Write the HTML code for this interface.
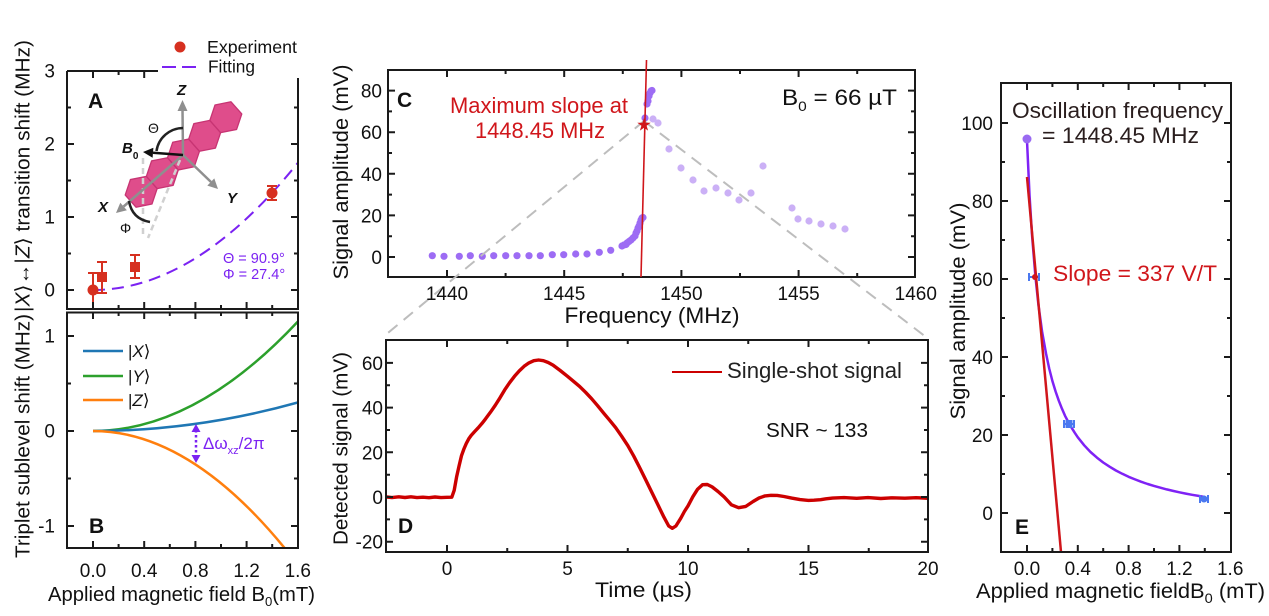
<!DOCTYPE html>
<html><head><meta charset="utf-8"><style>
html,body{margin:0;padding:0;background:#fff;}
svg{display:block;font-family:"Liberation Sans",Arial,"DejaVu Sans",sans-serif;}
</style></head><body>
<svg width="1269" height="616" viewBox="0 0 1269 616" xmlns="http://www.w3.org/2000/svg">
<defs>
<clipPath id="ca"><rect x="67" y="71" width="231" height="238"/></clipPath>
<clipPath id="cb"><rect x="67" y="312" width="231" height="236"/></clipPath>
<clipPath id="cd"><rect x="386" y="340" width="542" height="212"/></clipPath>
<clipPath id="ce"><rect x="1001" y="83" width="230" height="469"/></clipPath>
</defs>
<rect width="1269" height="616" fill="#fff"/>

<!-- ===== LEFT Y LABELS ===== -->
<text transform="translate(29.5,436) rotate(-90)" text-anchor="middle" font-size="20" fill="#111" textLength="244" lengthAdjust="spacingAndGlyphs">Triplet sublevel shift (MHz)</text>
<text transform="translate(29.5,176) rotate(-90)" text-anchor="middle" font-size="20" fill="#111" textLength="272" lengthAdjust="spacingAndGlyphs">|<tspan font-style="italic">X</tspan>⟩↔|<tspan font-style="italic">Z</tspan>⟩  transition shift (MHz)</text>

<!-- ===== PANEL A ===== -->
<g clip-path="url(#ca)">
<path d="M93 290 Q195.4 290 297.8 162.9" fill="none" stroke="#7b22f2" stroke-width="2" stroke-dasharray="12 7"/>
<g stroke="#d63020" stroke-width="2" fill="#d63020">
<path d="M93 273V312M88 273h10"/>
<path d="M102 262V293M97 262h10M97 293h10"/>
<path d="M135 255V278M130 255h10M130 278h10"/>
<path d="M272 186V200M267 186h10M267 200h10"/>
</g>
<circle cx="93" cy="290" r="5.5" fill="#d63020"/>
<rect x="97" y="272" width="10" height="10" fill="#d63020"/>
<rect x="130" y="262" width="10" height="10" fill="#d63020"/>
<circle cx="272" cy="193" r="5.5" fill="#d63020"/>
</g>
<text x="223" y="263" font-size="14.5" fill="#7b22f2">Θ = 90.9°</text>
<text x="223" y="279" font-size="14.5" fill="#7b22f2">Φ = 27.4°</text>

<!-- molecule -->
<g transform="translate(183.5,154.5) rotate(-41.4)" fill="#df4d8b" stroke="#c73473" stroke-width="1.3" stroke-linejoin="round">
<polygon points="-56.4,-16.3 -42.3,-8.15 -42.3,8.15 -56.4,16.3 -70.5,8.15 -70.5,-8.15"/>
<polygon points="-28.2,-16.3 -14.1,-8.15 -14.1,8.15 -28.2,16.3 -42.3,8.15 -42.3,-8.15"/>
<polygon points="0,-16.3 14.1,-8.15 14.1,8.15 0,16.3 -14.1,8.15 -14.1,-8.15"/>
<polygon points="28.2,-16.3 42.3,-8.15 42.3,8.15 28.2,16.3 14.1,8.15 14.1,-8.15"/>
<polygon points="56.4,-16.3 70.5,-8.15 70.5,8.15 56.4,16.3 42.3,8.15 42.3,-8.15"/>
</g>
<g stroke="#d0d0d0" stroke-width="2.5" stroke-dasharray="6 4" fill="none">
<path d="M143 158V238"/>
<path d="M180 160L148 238"/>
</g>
<g stroke="#8f8f8f" stroke-width="2.5" fill="#8f8f8f">
<path d="M183 155L182.5 109"/>
<polygon points="182.5,100 177.5,111 187.5,111" stroke="none"/>
<path d="M183 155L211 182"/>
<polygon points="218,189 207.3,185.6 214.3,178.4" stroke="none"/>
<path d="M183 155L123.6 206.5"/>
<polygon points="116,213 120.3,202.7 126.9,210.3" stroke="none"/>
</g>
<path d="M183 155L153 152.75" stroke="#111" stroke-width="2.5"/>
<polygon points="143,152 153.4,147.8 152.6,157.7" fill="#111"/>
<path d="M183 128A27 27 0 0 0 156.5 151" fill="none" stroke="#222" stroke-width="2.5"/>
<path d="M129 201Q132 219 150 222" fill="none" stroke="#222" stroke-width="2.5"/>
<text x="177" y="95" font-size="15" font-weight="bold" font-style="italic" fill="#111">Z</text>
<text x="227" y="203" font-size="15" font-weight="bold" font-style="italic" fill="#111">Y</text>
<text x="98" y="212" font-size="15" font-weight="bold" font-style="italic" fill="#111">X</text>
<text x="122" y="153" font-size="15" font-weight="bold" font-style="italic" fill="#111">B<tspan font-size="10" dy="6" font-style="normal">0</tspan></text>
<text x="148" y="133" font-size="14" fill="#111">Θ</text>
<text x="120" y="233" font-size="14" fill="#111">Φ</text>

<text x="88" y="108" font-size="21" font-weight="bold" fill="#111">A</text>

<!-- legend white box -->
<rect x="158" y="20" width="150" height="58" fill="#fff"/>
<circle cx="180" cy="47" r="5.5" fill="#d63020"/>
<text x="207" y="53" font-size="17.5" fill="#111" textLength="90" lengthAdjust="spacingAndGlyphs">Experiment</text>
<path d="M162 67H197" stroke="#7b22f2" stroke-width="2" stroke-dasharray="14 6"/>
<text x="208" y="72.5" font-size="17.5" fill="#111" textLength="47" lengthAdjust="spacingAndGlyphs">Fitting</text>

<!-- A frame -->
<path d="M67 71H158M298 78V309H67V71" fill="none" stroke="#1a1a1a" stroke-width="2"/>
<path d="M93 309v-7M144.2 309v-7M195.4 309v-7M246.6 309v-7M118.6 309v-4M169.8 309v-4M221 309v-4M272.2 309v-4
M93 71v7M144.2 71v7M118.6 71v4
M67 290h7M67 217h7M67 144h7M67 253.5h4M67 180.5h4M67 107.5h4
M298 290h-7M298 217h-7M298 144h-7M298 253.5h-4M298 180.5h-4M298 107.5h-4" stroke="#1a1a1a" stroke-width="2"/>
<g font-size="19" fill="#111" text-anchor="end">
<text x="55" y="77.5">3</text><text x="55" y="150.5">2</text><text x="55" y="223.5">1</text><text x="55" y="296.5">0</text>
</g>

<!-- ===== PANEL B ===== -->
<g clip-path="url(#cb)" fill="none" stroke-width="2.5">
<path d="M93 431Q195.4 431 297.8 321.6" stroke="#2ca02c"/>
<path d="M93 431Q195.4 431 297.8 402.5" stroke="#1f77b4"/>
<path d="M93 431Q188.7 431 284.4 547.8" stroke="#ff7f0e"/>
</g>
<path d="M196 430V457" stroke="#7b22f2" stroke-width="2.5" stroke-dasharray="2.5 2.5"/>
<polygon points="196,424 191.5,432 200.5,432" fill="#7b22f2"/>
<polygon points="196,463 191.5,455 200.5,455" fill="#7b22f2"/>
<text x="203" y="449" font-size="17" fill="#7b22f2">Δω<tspan font-size="11" dy="5">xz</tspan><tspan dy="-5">/2π</tspan></text>
<path d="M83 351H123" stroke="#1f77b4" stroke-width="2.5"/>
<path d="M83 376H123" stroke="#2ca02c" stroke-width="2.5"/>
<path d="M83 400H123" stroke="#ff7f0e" stroke-width="2.5"/>
<g font-size="17" fill="#111">
<text x="128" y="357">|<tspan font-style="italic">X</tspan>⟩</text>
<text x="128" y="382">|<tspan font-style="italic">Y</tspan>⟩</text>
<text x="128" y="406">|<tspan font-style="italic">Z</tspan>⟩</text>
</g>
<text x="89" y="533" font-size="21" font-weight="bold" fill="#111">B</text>
<rect x="67" y="312.5" width="231" height="235.5" fill="none" stroke="#1a1a1a" stroke-width="2"/>
<path d="M93 548v-7M144.2 548v-7M195.4 548v-7M246.6 548v-7M118.6 548v-4M169.8 548v-4M221 548v-4M272.2 548v-4
M93 312v7M144.2 312v7M195.4 312v7M246.6 312v7M118.6 312v4M169.8 312v4M221 312v4M272.2 312v4
M67 336h7M67 431h7M67 526h7M67 383.5h4M67 478.5h4
M298 336h-7M298 431h-7M298 526h-7M298 383.5h-4M298 478.5h-4" stroke="#1a1a1a" stroke-width="2"/>
<g font-size="19" fill="#111" text-anchor="end">
<text x="55" y="342.5">1</text><text x="55" y="437.5">0</text><text x="55" y="532.5">-1</text>
</g>
<g font-size="19" fill="#111" text-anchor="middle">
<text x="93" y="577">0.0</text><text x="144.2" y="577">0.4</text><text x="195.4" y="577">0.8</text><text x="246.6" y="577">1.2</text><text x="297.8" y="577">1.6</text>
</g>
<text x="48" y="601" font-size="20" fill="#111" textLength="267" lengthAdjust="spacingAndGlyphs">Applied magnetic field B<tspan font-size="13" dy="5">0</tspan><tspan dy="-5">(mT)</tspan></text>

<!-- ===== PANEL C ===== -->
<rect x="388" y="70" width="527" height="207" fill="none" stroke="#1a1a1a" stroke-width="2"/>
<path d="M447 277v-7M564.2 277v-7M681.4 277v-7M798.6 277v-7M505.6 277v-4M622.8 277v-4M740 277v-4M857.2 277v-4
M447 70v7M564.2 70v7M681.4 70v7M798.6 70v7M505.6 70v4M622.8 70v4M740 70v4M857.2 70v4
M388 257h7M388 215.4h7M388 173.8h7M388 132.2h7M388 90.6h7M388 236.2h4M388 194.6h4M388 153h4M388 111.4h4
M915 257h-7M915 215.4h-7M915 173.8h-7M915 132.2h-7M915 90.6h-7M915 236.2h-4M915 194.6h-4M915 153h-4M915 111.4h-4" stroke="#1a1a1a" stroke-width="2"/>
<g fill="#9d6cf4">
<circle cx="432.3" cy="255.7" r="3.6"/><circle cx="444" cy="256.3" r="3.6"/><circle cx="459.3" cy="256.3" r="3.6"/><circle cx="470.3" cy="255.7" r="3.6"/>
<circle cx="482.3" cy="256.3" r="3.6"/><circle cx="493.7" cy="255.7" r="3.6"/><circle cx="505.7" cy="255.7" r="3.6"/><circle cx="517" cy="255.7" r="3.6"/>
<circle cx="529" cy="255.7" r="3.6"/><circle cx="540.3" cy="255.7" r="3.6"/><circle cx="552.3" cy="254.7" r="3.6"/><circle cx="563.7" cy="254.7" r="3.6"/>
<circle cx="575.7" cy="254" r="3.6"/><circle cx="587" cy="254" r="3.6"/><circle cx="599.3" cy="252.3" r="3.6"/><circle cx="610.7" cy="250.3" r="3.6"/>
<circle cx="622" cy="246" r="3.6"/><circle cx="624" cy="245" r="3.6"/><circle cx="626" cy="244.5" r="3.6"/><circle cx="627" cy="243" r="3.6"/>
<circle cx="629" cy="241.5" r="3.6"/><circle cx="631" cy="240" r="3.6"/><circle cx="633" cy="238" r="3.6"/><circle cx="635" cy="236" r="3.6"/>
<circle cx="636" cy="233" r="3.6"/><circle cx="637" cy="231" r="3.6"/><circle cx="638" cy="228" r="3.6"/><circle cx="639" cy="226" r="3.6"/>
<circle cx="640" cy="223" r="3.6"/><circle cx="641" cy="220" r="3.6"/><circle cx="642" cy="218" r="3.6"/><circle cx="643" cy="217.5" r="3.6"/>
<circle cx="645" cy="118" r="3.6"/><circle cx="647" cy="104" r="3.6"/><circle cx="648" cy="101" r="3.6"/><circle cx="649" cy="96" r="3.6"/>
<circle cx="650" cy="93" r="3.6"/><circle cx="651" cy="91" r="3.6"/><circle cx="652" cy="90.5" r="3.6"/>
</g>
<g fill="#cbb0f6">
<circle cx="653" cy="119" r="3.6"/><circle cx="658" cy="123" r="3.6"/><circle cx="669" cy="149" r="3.6"/><circle cx="681" cy="168" r="3.6"/>
<circle cx="693" cy="180" r="3.6"/><circle cx="704" cy="191" r="3.6"/><circle cx="716" cy="188" r="3.6"/><circle cx="728" cy="193" r="3.6"/>
<circle cx="739" cy="200" r="3.6"/><circle cx="751" cy="193" r="3.6"/><circle cx="763" cy="166" r="3.6"/><circle cx="792" cy="208" r="3.6"/>
<circle cx="798" cy="219" r="3.6"/><circle cx="809" cy="221" r="3.6"/><circle cx="821" cy="224" r="3.6"/><circle cx="833" cy="226" r="3.6"/>
<circle cx="845" cy="229" r="3.6"/>
</g>
<path d="M644 121L383 337M644 121L926 337" stroke="#bdbdbd" stroke-width="2" stroke-dasharray="12 8" fill="none"/>
<path d="M646.5 60L641 277" stroke="#d0161b" stroke-width="1.6"/>
<polygon points="644,118 645.6,122.8 650.7,122.8 646.6,125.8 648.1,130.6 644,127.7 639.9,130.6 641.4,125.8 637.3,122.8 642.4,122.8" fill="#d0161b"/>
<text x="397" y="107" font-size="21" font-weight="bold" fill="#111">C</text>
<text x="539" y="113" font-size="22" fill="#d0161b" text-anchor="middle" textLength="178" lengthAdjust="spacingAndGlyphs">Maximum slope at</text>
<text x="540" y="138" font-size="22" fill="#d0161b" text-anchor="middle" textLength="130" lengthAdjust="spacingAndGlyphs">1448.45 MHz</text>
<text x="782" y="105" font-size="22" fill="#111" textLength="115" lengthAdjust="spacingAndGlyphs">B<tspan font-size="14" dy="6">0</tspan><tspan dy="-6"> = 66 µT</tspan></text>
<g font-size="19" fill="#111" text-anchor="end">
<text x="382" y="264">0</text><text x="382" y="222.4">20</text><text x="382" y="180.8">40</text><text x="382" y="139.2">60</text><text x="382" y="97.6">80</text>
</g>
<g font-size="19" fill="#111" text-anchor="middle">
<text x="447" y="300">1440</text><text x="564.2" y="300">1445</text><text x="681.4" y="300">1450</text><text x="798.6" y="300">1455</text><text x="915.8" y="300">1460</text>
</g>
<text x="652" y="323" font-size="22" fill="#111" text-anchor="middle" textLength="175" lengthAdjust="spacingAndGlyphs">Frequency (MHz)</text>
<text transform="translate(348,172) rotate(-90)" text-anchor="middle" font-size="21" fill="#111" textLength="215" lengthAdjust="spacingAndGlyphs">Signal amplitude (mV)</text>

<!-- ===== PANEL D ===== -->
<g clip-path="url(#cd)">
<path d="M386.8 497L392 497.6L398.8 496.8L405 497.5L410.9 496.8L417 497.6L422.9 497.2L429 497.7L435 497L441 497.6L447 497.3L451.8 497.2L454.2 490.3L456.6 476.9L459.1 465.7L461.5 455.7L463.9 449L466.3 443.4L468.7 438.9L471.1 435.5L474.7 431.5L478.3 427.7L482 423.4L485.6 418.8L490.4 412.3L495.2 405.4L500 397.8L504.8 389.7L509.6 382.7L514.5 376.3L519.3 370.9L524.1 366.3L528.9 362.9L533.8 360.7L538.6 360L543.4 360.7L548.2 362.5L553 365.1L560.2 370.5L567.5 376.3L573.5 381.3L579.6 386.4L585.6 392.3L591.6 398.7L597.6 405.7L603.7 413.2L609.7 420.3L615.7 427.7L621.7 436.3L627.8 445.6L633.8 456.2L639.8 467.9L645.8 480L651.9 492.5L657.9 504.8L663.9 517.1L668.7 526L672.3 528.3L675.9 526L680.8 518.2L684.4 511.5L688 505.9L692.8 496.8L697.6 489.2L702.5 484.7L707.3 484.5L712.1 486.9L718 491.5L724.2 497L731.4 504.8L738.6 507.7L745.8 506.4L753.1 501.5L759 498L765.1 495.9L771 495.3L777.2 495.4L784 496.5L791.6 498.1L800 499.6L808.5 500.4L814 500.2L820.6 499.7L826 498.8L832.6 498.1L844 497.6L856.7 498.3L868 497.6L880.8 498.5L892 497.8L904.9 498.2L916 497.7L929 498.3" fill="none" stroke="#cc0000" stroke-width="3.4" stroke-linejoin="round"/>
</g>
<rect x="386" y="340" width="542" height="212" fill="none" stroke="#1a1a1a" stroke-width="2"/>
<path d="M447 552v-7M567.5 552v-7M688 552v-7M808.5 552v-7M507.25 552v-4M627.75 552v-4M748.25 552v-4M868.75 552v-4
M447 340v7M567.5 340v7M688 340v7M808.5 340v7M507.25 340v4M627.75 340v4M748.25 340v4M868.75 340v4
M386 541.7h7M386 497h7M386 452.3h7M386 407.6h7M386 362.9h7M386 519.4h4M386 474.7h4M386 430h4M386 385.3h4
M928 541.7h-7M928 497h-7M928 452.3h-7M928 407.6h-7M928 362.9h-7M928 519.4h-4M928 474.7h-4M928 430h-4M928 385.3h-4" stroke="#1a1a1a" stroke-width="2"/>
<path d="M672 372H722" stroke="#cc0000" stroke-width="2"/>
<text x="727" y="378" font-size="22" fill="#222" textLength="175" lengthAdjust="spacingAndGlyphs">Single-shot signal</text>
<text x="766" y="437" font-size="20.5" fill="#111" textLength="102" lengthAdjust="spacingAndGlyphs">SNR ~ 133</text>
<text x="398" y="533" font-size="21" font-weight="bold" fill="#111">D</text>
<g font-size="19" fill="#111" text-anchor="end">
<text x="383" y="548.7">-20</text><text x="383" y="504">0</text><text x="383" y="459.3">20</text><text x="383" y="414.6">40</text><text x="383" y="369.9">60</text>
</g>
<g font-size="19" fill="#111" text-anchor="middle">
<text x="447" y="575">0</text><text x="567.5" y="575">5</text><text x="688" y="575">10</text><text x="808.5" y="575">15</text><text x="928" y="575">20</text>
</g>
<text x="643.5" y="597" font-size="21" fill="#111" text-anchor="middle" textLength="97" lengthAdjust="spacingAndGlyphs">Time (µs)</text>
<text transform="translate(347.5,448.5) rotate(-90)" text-anchor="middle" font-size="20.5" fill="#111" textLength="193" lengthAdjust="spacingAndGlyphs">Detected signal (mV)</text>

<!-- ===== PANEL E ===== -->
<g clip-path="url(#ce)">
<path d="M1027 140.5L1029.5 194.8L1032.1 236.1L1035.4 276.3L1038.4 304.7L1042.2 332.4L1046.1 353.9L1049.2 368.5L1052.4 381L1055.6 391.5L1058.8 400.7L1062 408.8L1065.1 415.9L1068.3 422L1071.5 427.6L1074.7 432.7L1077.8 437.3L1084.2 445.3L1090.5 452L1096.9 457.6L1103.2 462.5L1109.6 466.7L1115.9 470.5L1122.3 473.8L1128.6 476.8L1135 479.4L1141.3 481.8L1147.7 484L1154 485.9L1160.4 487.7L1166.7 489.4L1173 490.9L1179.4 492.3L1185.8 493.6L1192.1 494.8L1198.5 495.9L1204.8 497" fill="none" stroke="#7f22f5" stroke-width="2.5" stroke-linejoin="round"/>
<path d="M1027 177L1061 552" stroke="#d0161b" stroke-width="2.5"/>
</g>
<circle cx="1027" cy="139" r="4.5" fill="#9a6af2"/>
<g stroke="#4a78f0" stroke-width="2" fill="#4a78f0">
<path d="M1029 277H1039M1029 273V281M1039 273V281"/>
<path d="M1064 424H1074M1064 420V428M1074 420V428"/>
<rect x="1065.5" y="420" width="7" height="8" stroke="none"/>
<path d="M1200 499H1208M1200 495V503M1208 495V503"/>
<circle cx="1204" cy="499" r="3.5" stroke="none"/>
</g>
<circle cx="1035" cy="277" r="3" fill="#d0161b"/>
<rect x="1001" y="83" width="230" height="469" fill="none" stroke="#1a1a1a" stroke-width="2"/>
<path d="M1027 552v-7M1077.8 552v-7M1128.6 552v-7M1179.4 552v-7M1052.4 552v-4M1103.2 552v-4M1154 552v-4M1204.8 552v-4
M1027 83v7M1077.8 83v7M1128.6 83v7M1179.4 83v7M1052.4 83v4M1103.2 83v4M1154 83v4M1204.8 83v4
M1001 513h7M1001 435h7M1001 357h7M1001 279h7M1001 201h7M1001 123h7M1001 474h4M1001 396h4M1001 318h4M1001 240h4M1001 162h4
M1231 513h-7M1231 435h-7M1231 357h-7M1231 279h-7M1231 201h-7M1231 123h-7M1231 474h-4M1231 396h-4M1231 318h-4M1231 240h-4M1231 162h-4" stroke="#1a1a1a" stroke-width="2"/>
<text x="1012" y="118" font-size="22" fill="#2a1e1e" textLength="211" lengthAdjust="spacingAndGlyphs">Oscillation frequency</text>
<text x="1042" y="143" font-size="22" fill="#2a1e1e" textLength="157" lengthAdjust="spacingAndGlyphs">= 1448.45 MHz</text>
<text x="1053" y="281" font-size="22" fill="#d0161b" textLength="164" lengthAdjust="spacingAndGlyphs">Slope = 337 V/T</text>
<text x="1015" y="534" font-size="21" font-weight="bold" fill="#111">E</text>
<g font-size="19" fill="#111" text-anchor="end">
<text x="993" y="520">0</text><text x="993" y="442">20</text><text x="993" y="364">40</text><text x="993" y="286">60</text><text x="993" y="208">80</text><text x="993" y="130">100</text>
</g>
<g font-size="19" fill="#111" text-anchor="middle">
<text x="1027" y="575">0.0</text><text x="1077.8" y="575">0.4</text><text x="1128.6" y="575">0.8</text><text x="1179.4" y="575">1.2</text><text x="1230.2" y="575">1.6</text>
</g>
<text x="976" y="598" font-size="21" fill="#111" textLength="289" lengthAdjust="spacingAndGlyphs">Applied magnetic fieldB<tspan font-size="14" dy="5">0</tspan><tspan dy="-5"> (mT)</tspan></text>
<text transform="translate(965,311) rotate(-90)" text-anchor="middle" font-size="21" fill="#111" textLength="217" lengthAdjust="spacingAndGlyphs">Signal amplitude (mV)</text>
</svg>
</body></html>
